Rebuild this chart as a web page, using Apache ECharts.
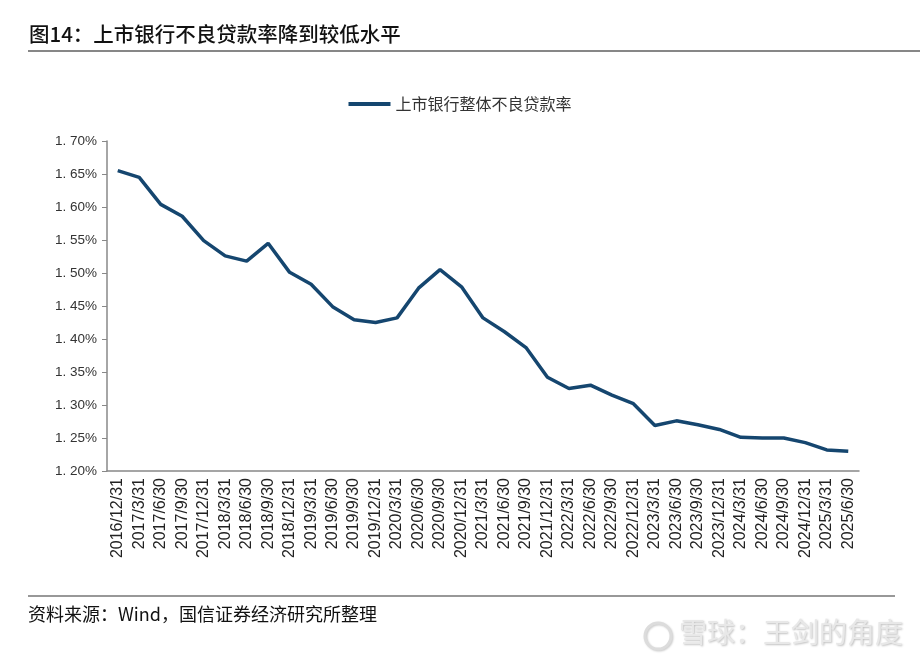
<!DOCTYPE html>
<html>
<head>
<meta charset="utf-8">
<script src="https://cdn.jsdelivr.net/npm/echarts@6/dist/echarts.min.js"></script>
<style>
html,body{margin:0;padding:0;background:#fff;}
#chart{width:920px;height:664px;}
</style>
</head>
<body>
<div id="chart"></div>
<script>
const categories = ["2016/12/31","2017/3/31","2017/6/30","2017/9/30","2017/12/31","2018/3/31","2018/6/30","2018/9/30","2018/12/31","2019/3/31","2019/6/30","2019/9/30","2019/12/31","2020/3/31","2020/6/30","2020/9/30","2020/12/31","2021/3/31","2021/6/30","2021/9/30","2021/12/31","2022/3/31","2022/6/30","2022/9/30","2022/12/31","2023/3/31","2023/6/30","2023/9/30","2023/12/31","2024/3/31","2024/6/30","2024/9/30","2024/12/31","2025/3/31","2025/6/30"];
const nplRatio = [1.655,1.645,1.604,1.586,1.549,1.526,1.518,1.545,1.501,1.483,1.449,1.429,1.425,1.432,1.477,1.505,1.479,1.432,1.411,1.387,1.342,1.325,1.330,1.315,1.302,1.269,1.276,1.270,1.263,1.251,1.250,1.250,1.243,1.232,1.230];
const seriesName = "上市银行整体不良贷款率";
const titleText = "图14：上市银行不良贷款率降到较低水平";
const sourceText = "资料来源：Wind，国信证券经济研究所整理";
const watermarkText = "雪球：王剑的角度";

const chart = echarts.init(document.getElementById('chart'), null, {renderer:'canvas'});
chart.setOption({
  animation:false,
  backgroundColor:'#ffffff',
  graphic:[
    {type:'text', left:29, top:24, style:{text:titleText, font:'500 20.5px "Noto Sans CJK SC", sans-serif', fill:'#111'}},
    {type:'line', shape:{x1:28,y1:51,x2:920,y2:51}, style:{stroke:'#111', lineWidth:1.2}},
    {type:'line', shape:{x1:28,y1:596,x2:895,y2:596}, style:{stroke:'#333', lineWidth:1.2}},
    {type:'text', left:28, top:605, style:{text:sourceText, font:'18px "Noto Sans CJK SC", sans-serif', fill:'#111'}},
    {type:'circle', shape:{cx:658,cy:636,r:13}, style:{fill:'none', stroke:'#dcdcdc', lineWidth:3, shadowColor:'rgba(0,0,0,0.2)', shadowBlur:2, shadowOffsetX:1, shadowOffsetY:1}},
    {type:'text', left:679, top:618, style:{text:watermarkText, font:'28px "Noto Sans CJK SC", sans-serif', fill:'#e8e8e8', textShadowColor:'rgba(0,0,0,0.25)', textShadowBlur:2, textShadowOffsetX:1, textShadowOffsetY:1}}
  ],
  legend:{
    top:91, left:'center',
    itemWidth:42, itemHeight:4, itemGap:8,
    icon:'rect',
    textStyle:{fontSize:16, color:'#333', fontFamily:'"Noto Sans CJK SC", sans-serif'},
    data:[seriesName]
  },
  grid:{left:107, right:61, top:141, bottom:193},
  xAxis:{
    type:'category',
    data:categories,
    boundaryGap:true,
    axisLine:{lineStyle:{color:'#888', width:1.5}},
    axisTick:{inside:true, length:4, lineStyle:{color:'#888'}},
    axisLabel:{rotate:90, interval:0, fontSize:16, color:'#222', margin:7, fontFamily:'Arial, "Liberation Sans", sans-serif'}
  },
  yAxis:{
    type:'value',
    min:1.20, max:1.70, interval:0.05,
    splitLine:{show:false},
    axisLine:{show:true, lineStyle:{color:'#888', width:1.5}},
    axisTick:{show:true, length:5, lineStyle:{color:'#888'}},
    axisLabel:{fontSize:13.5, color:'#333', margin:10, fontFamily:'Arial, "Liberation Sans", sans-serif',
      formatter:function(v){ var s=v.toFixed(2); return s.replace('.', '. ') + '%'; }}
  },
  series:[{
    name:seriesName,
    type:'line',
    data:nplRatio,
    symbol:'none',
    lineStyle:{color:'#15466f', width:3.5},
    itemStyle:{color:'#15466f'}
  }]
});
</script>
</body>
</html>
